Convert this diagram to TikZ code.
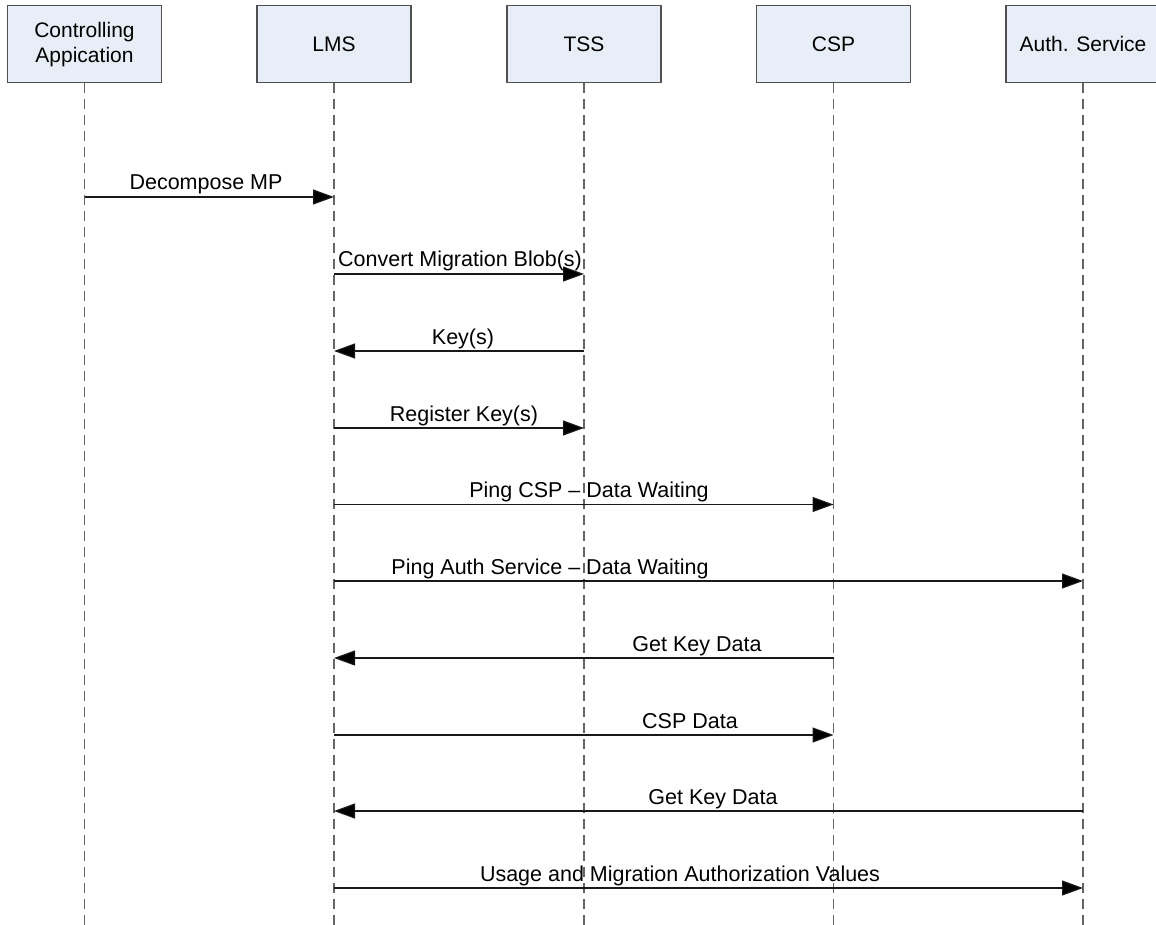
\documentclass[tikz,border=0pt]{standalone}
\usepackage{fontspec}
\setmainfont{Liberation Sans}
\usetikzlibrary{arrows.meta}

\definecolor{boxfill}{RGB}{232,238,247}
\definecolor{boxline}{RGB}{80,80,80}
\definecolor{lifegray}{RGB}{100,100,100}

\tikzset{
  actor/.style={draw=boxline, line width=1.2pt, fill=boxfill, minimum width=154pt,
    minimum height=77pt, inner sep=0pt, align=center,
    font=\fontsize{21}{25}\selectfont, anchor=north},
  lifeline/.style={draw=lifegray, line width=1.2pt, dash pattern=on 10pt off 6pt},
  msg/.style={draw=black!90, line width=1.2pt,
    -{Triangle[length=21pt,width=15pt,fill=black]}},
  msglabel/.style={anchor=base, inner sep=0pt, font=\fontsize{21.5}{25}\selectfont}
}

\begin{document}
\begin{tikzpicture}[x=1pt, y=-1pt]
  \useasboundingbox (0,0) rectangle (1156,925);

  % participants
  \node[actor] (ca)   at (84.5,5)  {Controlling\\Appication};
  \node[actor] (lms)  at (334,5)   {LMS};
  \node[actor] (tss)  at (584,5)   {TSS};
  \node[actor] (csp)  at (833.5,5) {CSP};
  \node[actor] (auth) at (1083,5)  {Auth. Service};

  % lifelines
  \foreach \p in {ca,lms,tss,csp,auth}{
    \coordinate (\p end) at (\p.south |- 0,925);
    \draw[lifeline] (\p.south) -- (\p end);
  }

  % messages: \msgline{from}{to}{y}{label x}{label}
  \newcommand{\msgline}[5]{%
    \draw[msg] (#1.south |- 0,#3) -- (#2.south |- 0,#3);
    \node[msglabel] at (#4,#3-7) {#5};
  }

  \msgline{ca}{lms}{197}{206}{Decompose MP}
  \msgline{lms}{tss}{274}{460}{Convert Migration Blob(s)}
  \msgline{tss}{lms}{351}{463}{Key(s)}
  \msgline{lms}{tss}{428}{464}{Register Key(s)}
  \msgline{lms}{csp}{504.5}{589}{Ping CSP -- Data Waiting}
  \msgline{lms}{auth}{581}{550}{Ping Auth Service -- Data Waiting}
  \msgline{csp}{lms}{658}{697}{Get Key Data}
  \msgline{lms}{csp}{735}{690}{CSP Data}
  \msgline{auth}{lms}{811}{713}{Get Key Data}
  \msgline{lms}{auth}{888}{680}{Usage and Migration Authorization Values}
\end{tikzpicture}
\end{document}
